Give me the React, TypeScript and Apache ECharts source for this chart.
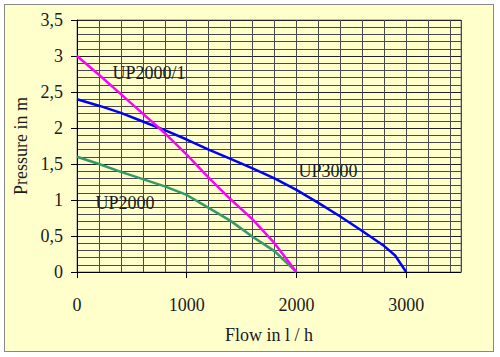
import React, { useEffect, useRef } from "react";
import * as echarts from "echarts";

const flow = [0, 200, 400, 600, 800, 1000, 1200, 1400, 1600, 1800, 2000, 2200, 2400, 2600, 2800, 2900, 3000];
const up3000 = [2.4, 2.31, 2.21, 2.09, 1.97, 1.84, 1.7, 1.57, 1.44, 1.3, 1.14, 0.96, 0.77, 0.57, 0.36, 0.23, 0];
const flow2000 = [0, 200, 400, 600, 800, 1000, 1200, 1400, 1600, 1800, 2000];
const up2000_1 = [3.0, 2.74, 2.47, 2.2, 1.93, 1.63, 1.31, 1.01, 0.73, 0.4, 0];
const up2000 = [1.6, 1.5, 1.39, 1.29, 1.19, 1.07, 0.89, 0.71, 0.49, 0.29, 0];
const seriesLabels = ["UP2000/1", "UP3000", "UP2000"];

const FONT = '"Liberation Serif", "Times New Roman", serif';

export default function App() {
  const ref = useRef<HTMLDivElement>(null);
  useEffect(() => {
    if (!ref.current) return;
    const chart = echarts.init(ref.current, undefined, { renderer: "svg" });
    const pair = (xs: number[], ys: number[]) => xs.map((x, i) => [x, ys[i]]);
    const gridColor = "#4a4a4a";
    chart.setOption({
      animation: false,
      backgroundColor: "transparent",
      textStyle: { fontFamily: FONT },
      grid: {
        left: 77,
        top: 20,
        width: 384,
        height: 252,
        show: true,
        borderColor: "#888",
        borderWidth: 1,
        backgroundColor: "transparent",
      },
      xAxis: [
        {
          type: "value",
          min: 0,
          max: 3500,
          interval: 1000,
          position: "bottom",
          axisLine: { show: true, lineStyle: { color: "#000", width: 1 } },
          axisTick: { show: true, length: 6, lineStyle: { color: "#000" } },
          axisLabel: {
            fontFamily: FONT,
            fontSize: 18,
            color: "#1a1a1a",
            margin: 24,
            showMaxLabel: false,
            formatter: (v: number) => String(v),
          },
          splitLine: { show: false },
          name: "Flow in l / h",
          nameLocation: "middle",
          nameGap: 54,
          nameTextStyle: { fontFamily: FONT, fontSize: 18, color: "#1a1a1a" },
        },
        {
          type: "value",
          min: 0,
          max: 3500,
          interval: 200,
          position: "top",
          axisLine: { show: false },
          axisTick: { show: false },
          axisLabel: { show: false },
          splitLine: { show: true, lineStyle: { color: gridColor, width: 1 } },
        },
      ],
      yAxis: {
        type: "value",
        min: 0,
        max: 3.5,
        interval: 0.5,
        axisLine: { show: true, lineStyle: { color: "#000", width: 1 } },
        axisTick: { show: true, length: 6, lineStyle: { color: "#000" } },
        axisLabel: {
          fontFamily: FONT,
          fontSize: 18,
          color: "#1a1a1a",
          margin: 14,
          formatter: (v: number) => String(v).replace(".", ","),
        },
        splitLine: { show: true, lineStyle: { color: "#222", width: 1 } },
        minorTick: { show: false, splitNumber: 5 },
        minorSplitLine: { show: true, lineStyle: { color: gridColor, width: 1 } },
        name: "Pressure in m",
        nameLocation: "middle",
        nameRotate: 90,
        nameGap: 46,
        nameTextStyle: { fontFamily: FONT, fontSize: 18, color: "#1a1a1a" },
      },
      series: [
        {
          name: seriesLabels[1],
          type: "line",
          data: pair(flow, up3000),
          showSymbol: false,
          lineStyle: { color: "#0000ff", width: 2.5 },
          z: 3,
        },
        {
          name: seriesLabels[0],
          type: "line",
          data: pair(flow2000, up2000_1),
          showSymbol: false,
          lineStyle: { color: "#ff00ff", width: 2.5 },
          z: 4,
        },
        {
          name: seriesLabels[2],
          type: "line",
          data: pair(flow2000, up2000),
          showSymbol: false,
          lineStyle: { color: "#339966", width: 2.5 },
          z: 3,
        },
      ],
      graphic: [
        {
          type: "text",
          x: 149,
          y: 73,
          z: 10,
          style: { text: seriesLabels[0], font: `18px ${FONT}`, fill: "#1a1a1a", align: "center", verticalAlign: "middle" },
        },
        {
          type: "text",
          x: 328,
          y: 171,
          z: 10,
          style: { text: seriesLabels[1], font: `18px ${FONT}`, fill: "#1a1a1a", align: "center", verticalAlign: "middle" },
        },
        {
          type: "text",
          x: 125,
          y: 203,
          z: 10,
          style: { text: seriesLabels[2], font: `18px ${FONT}`, fill: "#1a1a1a", align: "center", verticalAlign: "middle" },
        },
      ],
    });
    return () => chart.dispose();
  }, []);

  return (
    <div style={{ position: "absolute", left: 0, top: 0, width: 500, height: 357, background: "#fff" }}>
      <div
        style={{
          position: "absolute",
          left: 4,
          top: 4,
          width: 490,
          height: 348,
          boxSizing: "border-box",
          border: "1px solid #888",
          background: "#FFFFCC",
        }}
      />
      <div ref={ref} style={{ position: "absolute", left: 0, top: 0, width: 500, height: 357 }} />
    </div>
  );
}
